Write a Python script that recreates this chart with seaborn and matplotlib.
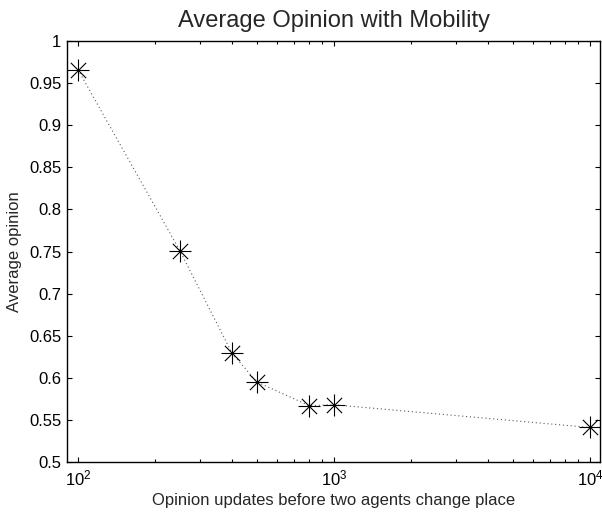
import numpy as np
import pandas as pd
import matplotlib
matplotlib.use('Agg')
import matplotlib.pyplot as plt
import seaborn as sns
from matplotlib.ticker import FixedLocator, FuncFormatter, LogLocator, NullFormatter

# data
updates = [100, 250, 400, 500, 800, 1000, 10000]
avg_opinion = [0.966, 0.751, 0.629, 0.595, 0.567, 0.568, 0.541]
yticks = [0.5, 0.55, 0.6, 0.65, 0.7, 0.75, 0.8, 0.85, 0.9, 0.95, 1.0]

df = pd.DataFrame({'updates': updates, 'opinion': avg_opinion})

sns.set_style('white')
plt.rcParams['font.family'] = ['Liberation Sans', 'DejaVu Sans']
plt.rcParams['mathtext.default'] = 'regular'

fig = plt.figure(figsize=(6.02, 5.13), dpi=100)
ax = fig.add_axes([0.1113, 0.0994, 0.8854, 0.8206])

# dotted connecting line, then asterisk markers built from + and x
sns.lineplot(data=df, x='updates', y='opinion', ax=ax, color='0.35',
             linestyle=(0, (1, 2.5)), linewidth=0.8, sort=False)
sns.scatterplot(data=df, x='updates', y='opinion', ax=ax, marker='+',
                s=15.5 ** 2, color='k', linewidth=0.8, zorder=3)
sns.scatterplot(data=df, x='updates', y='opinion', ax=ax, marker='x',
                s=11 ** 2, color='k', linewidth=0.8, zorder=3)

ax.set_xscale('log')
ax.set_xlim(90.6, 10940)
ax.set_ylim(0.5, 1.0)
ax.yaxis.set_major_locator(FixedLocator(yticks))
ax.yaxis.set_major_formatter(FuncFormatter(lambda v, p: '%g' % round(v, 2)))
ax.xaxis.set_major_locator(LogLocator(base=10))
ax.xaxis.set_minor_locator(LogLocator(base=10, subs=np.arange(2, 10)))
ax.xaxis.set_minor_formatter(NullFormatter())

for sp in ax.spines.values():
    sp.set_visible(True)
    sp.set_color('k')
    sp.set_linewidth(1.0)

ax.tick_params(which='both', direction='in', top=True, right=True,
               bottom=True, left=True, colors='k', labelsize=12)
ax.tick_params(which='major', length=3.6, width=0.8)
ax.tick_params(which='minor', length=2.2, width=0.8)
ax.tick_params(axis='y', pad=4)
ax.tick_params(axis='x', pad=5)

ax.set_title('Average Opinion with Mobility', fontsize=17, pad=10)
ax.set_xlabel('Opinion updates before two agents change place', fontsize=12, labelpad=3)
ax.set_ylabel('Average opinion', fontsize=12, labelpad=5)

fig.savefig('out.png', dpi=100)
